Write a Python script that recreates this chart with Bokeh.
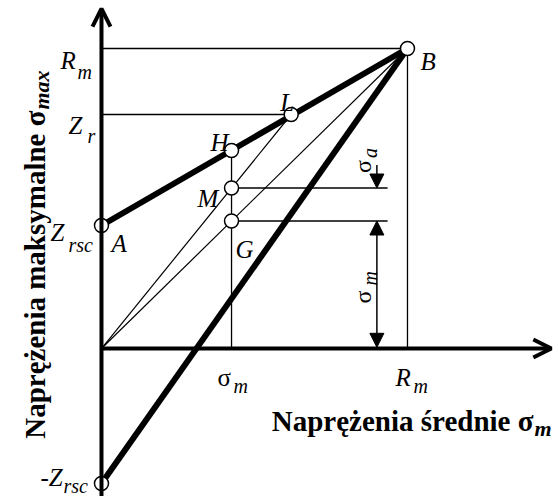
from bokeh.plotting import figure
from bokeh.models import Range1d, Arrow, OpenHead, NormalHead
from bokeh.core.properties import value
from bokeh.embed import file_html
from bokeh.resources import INLINE
import math

# --- Smith fatigue diagram, stresses in % of R_m ---
R_m = 100.0          # tensile strength
Z_r = 78.0           # fatigue limit, pulsating tension
Z_rsc = 41.0         # fatigue limit, fully reversed (upper intercept)
Z_rsc_low = -45.0    # lower intercept of the minimum-stress line
sigma_m = 42.5       # chosen mean stress
sigma_H = 66.0       # limit maximum stress at sigma_m (point H)
sigma_M = 53.5       # maximum stress at sigma_m on ray O-L (point M)
sigma_G = 42.5       # mean stress on the 45 deg line (point G)
L_x = 62.0           # abscissa of point L (upper line reaches Z_r)

point_names = ["A", "H", "L", "B", "M", "G", "-Z"]
point_x = [0.0, sigma_m, L_x, R_m, sigma_m, sigma_m, 0.0]
point_y = [Z_rsc, sigma_H, Z_r, R_m, sigma_M, sigma_G, Z_rsc_low]

W, H = 558, 496
x0, x1 = -33.0, 149.35
y0, y1 = -49.33, 116.0
PX = W / (x1 - x0)   # pixels per unit, horizontal
PY = H / (y1 - y0)   # pixels per unit, vertical

p = figure(width=W, height=H, x_range=Range1d(x0, x1), y_range=Range1d(y0, y1),
           output_backend="svg", toolbar_location=None, min_border=0,
           x_axis_location=None, y_axis_location=None)
p.grid.visible = False
p.outline_line_color = None
p.background_fill_color = "white"
p.border_fill_color = "white"

FONT = value("Liberation Serif")
thin = dict(line_color="black", line_width=1.3)

def at(x, y, dx, dy):
    """data position shifted by screen pixels (dy positive = down)"""
    return x + dx / PX, y - dy / PY

def label(x, y, dx, dy, txt, size=25, style="italic", align="left", angle=0.0):
    lx, ly = at(x, y, dx, dy)
    p.text(x=[lx], y=[ly], text=[txt], text_font=FONT, text_font_style=style,
           text_font_size=f"{size}px", text_align=align, text_baseline="alphabetic",
           angle=angle, text_color="black")

# coordinate axes with open arrow heads
p.add_layout(Arrow(end=OpenHead(size=18, line_width=4, line_color="black"),
                   x_start=0, y_start=y0, x_end=0, y_end=R_m * 1.133,
                   line_width=4, line_color="black"))
p.add_layout(Arrow(end=OpenHead(size=18, line_width=4, line_color="black"),
                   x_start=0, y_start=0, x_end=R_m * 1.47, y_end=0,
                   line_width=4, line_color="black"))

# reference lines
p.line([0, R_m], [R_m, R_m], **thin)
p.line([R_m, R_m], [R_m, 0], **thin)
p.line([0, L_x], [Z_r, Z_r], **thin)
p.line([sigma_m, sigma_m], [0, sigma_H], **thin)
dim_x = R_m * 0.90
p.line([sigma_m, R_m * 0.935], [sigma_M, sigma_M], **thin)
p.line([sigma_m, R_m * 0.935], [sigma_G, sigma_G], **thin)

# rays from the origin
p.line([0, L_x], [0, Z_r], line_color="black", line_width=1.2)
p.line([0, R_m], [0, R_m], line_color="black", line_width=1.2)

# limit lines
p.line([0, R_m], [Z_rsc, R_m], line_color="black", line_width=6)
p.line([0, R_m], [Z_rsc_low, R_m], line_color="black", line_width=6)

# dimension arrows for sigma_a and sigma_m
head = dict(size=14, fill_color="black", line_color="black", line_width=1)
p.add_layout(Arrow(end=NormalHead(**head), x_start=dim_x, y_start=sigma_M + 23 / PY,
                   x_end=dim_x, y_end=sigma_M, line_width=1.5, line_color="black"))
p.add_layout(Arrow(start=NormalHead(**head), end=NormalHead(**head),
                   x_start=dim_x, y_start=sigma_G, x_end=dim_x, y_end=0.4,
                   line_width=1.5, line_color="black"))

# construction points
p.scatter(point_x, point_y, size=14, marker="circle", fill_color="white",
          line_color="black", line_width=1.5)

# point letters
label(R_m, R_m, 13, 13, "B")
label(L_x, Z_r, -11, -12, "L")
label(sigma_m, sigma_H, -21, -8, "H")
label(sigma_m, sigma_M, -34, 10, "M")
label(sigma_m, sigma_G, 4, 28, "G")
label(0, Z_rsc, 10, 18, "A")

# vertical axis marks
label(0, R_m, -41, 12, "R")
label(0, R_m, -24, 23, "m", size=20)
label(0, Z_r, -33, 11, "Z")
label(0, Z_r, -14, 21, "r", size=20)
label(0, Z_rsc, -51, 7, "Z")
label(0, Z_rsc, -33, 19, "rsc", size=20)
label(0, Z_rsc_low, -61, -6, "-Z")
label(0, Z_rsc_low, -38, 2, "rsc", size=20)

# horizontal axis marks
label(sigma_m, 0, -14, 29, "σ", style="normal")
label(sigma_m, 0, 2, 37, "m", size=20)
label(R_m, 0, -12, 29, "R")
label(R_m, 0, 6, 37, "m", size=20)

# dimension labels (rotated)
rot = math.pi / 2
label(dim_x, sigma_M, -14, -15, "σ", size=24, style="normal", angle=rot)
label(dim_x, sigma_M, -7, -30, "a", size=20, angle=rot)
label(dim_x, 0, -14, -45, "σ", size=24, style="normal", angle=rot)
label(dim_x, 0, -7, -63, "m", size=20, angle=rot)

# axis titles
label(0, 0, 432, 72, "Naprężenia średnie σ", size=29, style="bold", align="right")
label(0, 0, 433, 80, "m", size=22, style="bold italic")
label(0, 0, -66, -238, "Naprężenia maksymalne σ", size=29, style="bold",
      align="right", angle=rot)
label(0, 0, -60, -239, "max", size=22, style="bold italic", angle=rot)

open("out.html", "w").write(file_html(p, INLINE))
